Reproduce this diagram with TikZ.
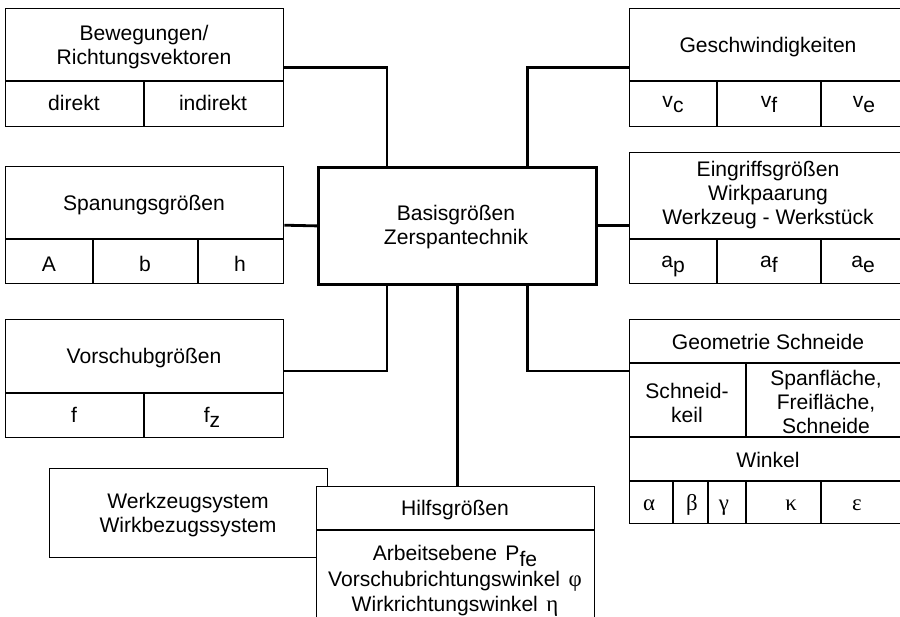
\documentclass[tikz,border=0pt]{standalone}
\usepackage{fontspec}
\setmainfont{Liberation Sans}
\newfontfamily\grkfont{Liberation Serif}
\usetikzlibrary{calc}

\newcommand\idx[1]{\raisebox{-0.25em}{#1}}
\newcommand\grk[1]{{\grkfont\fontsize{13}{14}\selectfont #1}}

\begin{document}
\begin{tikzpicture}[x=0.02cm, y=-0.02cm,
  frame/.style={draw, line width=0.8pt, fill=white, inner sep=0pt, anchor=north west, minimum width=5.56cm},
  grid/.style={line width=0.8pt},
  txt/.style={font=\fontsize{12}{13.8}\selectfont, align=center, inner sep=0pt},
  lbl/.style={txt, anchor=base},
  conn/.style={line width=1.6pt},
]
\useasboundingbox (0,0) rectangle (900,616);
\clip (0,0) rectangle (900,616);

% === LEFT COLUMN ===
\node[frame, minimum height=2.36cm] (bew) at (5,8) {};
\draw[grid] ($(bew.north west)+(0,73)$) -- ++(278,0) ($(bew.north west)+(139,73)$) -- ++(0,45);
\node[txt] (bew-t) at (144,47) {Bewegungen/\\Richtungsvektoren};
\node[lbl] (bew-d) at (74,110) {direkt};
\node[lbl] (bew-i) at (213,110) {indirekt};

\node[frame, minimum height=2.34cm] (span) at (5,166) {};
\draw[grid] ($(span.north west)+(0,73)$) -- ++(278,0)
  ($(span.north west)+(88,73)$) -- ++(0,44) ($(span.north west)+(193,73)$) -- ++(0,44);
\node[lbl] (span-t) at (144,210) {Spanungsgrößen};
\node[lbl] (span-a) at (49,271) {A};
\node[lbl] (span-b) at (145,271) {b};
\node[lbl] (span-h) at (240,271) {h};

\node[frame, minimum height=2.36cm] (vor) at (5,319) {};
\draw[grid] ($(vor.north west)+(0,74)$) -- ++(278,0) ($(vor.north west)+(139,74)$) -- ++(0,44);
\node[lbl] (vor-t) at (144,363) {Vorschubgrößen};
\node[lbl] (vor-f) at (74,422) {f};
\node[lbl] (vor-fz) at (212,422) {f\idx{z}};

% === BOTTOM ===
\node[frame, minimum height=1.78cm] (werk) at (49,468) {};
\node[txt] (werk-t) at (188,515) {Werkzeugsystem\\Wirkbezugssystem};

\node[frame, minimum height=2.8cm] (hilf) at (316,486) {};
\draw[grid] ($(hilf.north west)+(0,44)$) -- ++(278,0);
\node[lbl] (hilf-t) at (455,515) {Hilfsgrößen};
\node[txt, font=\fontsize{12}{14.4}\selectfont] (hilf-l) at (455,581) {Arbeitsebene\hspace{0.4em}P\idx{fe}\\
  Vorschubrichtungswinkel\hspace{0.4em}\grk{φ}\\Wirkrichtungswinkel\hspace{0.4em}\grk{η}};

% === CENTER ===
\node[frame, line width=1.6pt, minimum height=2.34cm] (base) at (317,166) {};
\node[txt] (base-t) at (456,227) {Basisgrößen\\Zerspantechnik};

% === RIGHT COLUMN ===
\node[frame, minimum height=2.36cm] (gesch) at (629,8) {};
\draw[grid] ($(gesch.north west)+(0,73)$) -- ++(278,0)
  ($(gesch.north west)+(88,73)$) -- ++(0,45) ($(gesch.north west)+(192,73)$) -- ++(0,45);
\node[lbl] (gesch-t) at (768,52) {Geschwindigkeiten};
\node[lbl] (gesch-c) at (673,107) {v\idx{c}};
\node[lbl] (gesch-f) at (769,107) {v\idx{f}};
\node[lbl] (gesch-e) at (864,107) {v\idx{e}};

\node[frame, minimum height=2.62cm] (eing) at (629,152) {};
\draw[grid] ($(eing.north west)+(0,87)$) -- ++(278,0)
  ($(eing.north west)+(88,87)$) -- ++(0,44) ($(eing.north west)+(192,87)$) -- ++(0,44);
\node[txt] (eing-t) at (768,195) {Eingriffsgrößen\\Wirkpaarung\\Werkzeug - Werkstück};
\node[lbl] (eing-p) at (673,267) {a\idx{p}};
\node[lbl] (eing-f) at (769,267) {a\idx{f}};
\node[lbl] (eing-e) at (863,267) {a\idx{e}};

\node[frame, minimum height=4.08cm] (geo) at (629,319) {};
\draw[grid] ($(geo.north west)+(0,44)$) -- ++(278,0)
  ($(geo.north west)+(0,118)$) -- ++(278,0)
  ($(geo.north west)+(0,162)$) -- ++(278,0)
  ($(geo.north west)+(117,44)$) -- ++(0,74)
  ($(geo.north west)+(44,162)$) -- ++(0,42)
  ($(geo.north west)+(79,162)$) -- ++(0,42)
  ($(geo.north west)+(117,162)$) -- ++(0,42)
  ($(geo.north west)+(192,162)$) -- ++(0,42);
\node[lbl] (geo-t) at (768,349) {Geometrie Schneide};
\node[txt] (geo-k) at (687,403) {Schneid-\\keil};
\node[txt] (geo-s) at (826,402) {Spanfläche,\\Freifläche,\\Schneide};
\node[lbl] (geo-w) at (768,467) {Winkel};
\node[lbl] (geo-al) at (649,510) {\grk{α}};
\node[lbl] (geo-be) at (692,510) {\grk{β}};
\node[lbl] (geo-ga) at (724,510) {\grk{γ}};
\node[lbl] (geo-ka) at (791,510) {\grk{κ}};
\node[lbl] (geo-ep) at (857,510) {\grk{ε}};

% === CONNECTORS ===
\draw[conn] (bew.east) -| ($(base.north west)+(70,0)$);
\draw[conn] (gesch.west) -| ($(base.north east)+(-70,0)$);
\draw[conn] (span.east) -- (base.west);
\draw[conn] (base.east) -- (base.east -| eing.west);
\draw[conn] ($(vor.north east)+(0,52)$) -| ($(base.south west)+(70,0)$);
\draw[conn] ($(geo.north west)+(0,52)$) -| ($(base.south east)+(-70,0)$);
\draw[conn] (base.south) -- (base.south |- hilf.north);
\end{tikzpicture}
\end{document}
